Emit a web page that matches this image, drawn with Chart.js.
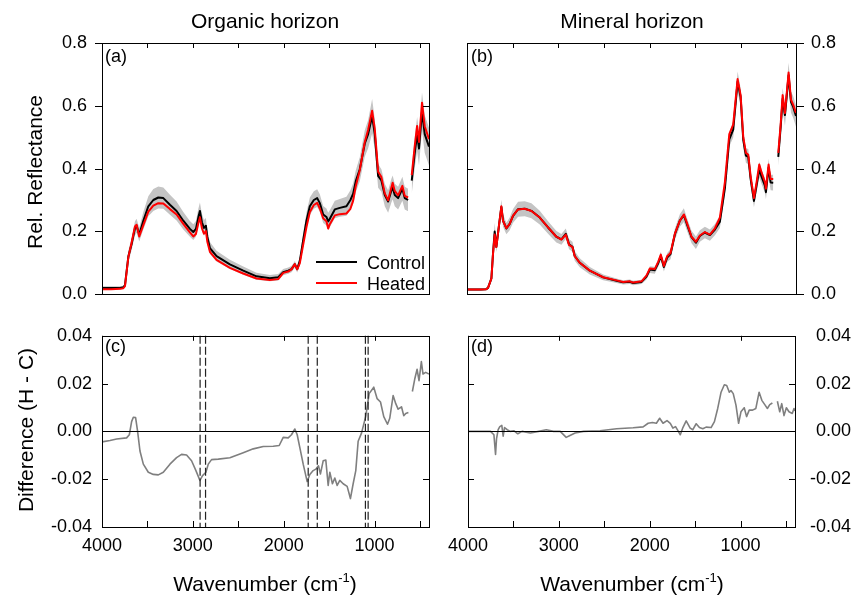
<!DOCTYPE html>
<html><head><meta charset="utf-8">
<script src="https://cdn.jsdelivr.net/npm/chart.js@4.4.0/dist/chart.umd.min.js"></script>
<style>
html,body{margin:0;padding:0;background:#fff;}
body{width:851px;height:602px;position:relative;overflow:hidden;font-family:"Liberation Sans",Arial,sans-serif;color:#000;}
canvas{position:absolute;}
.t{position:absolute;white-space:nowrap;line-height:1;transform:translate(-50%,-50%);}
.r{transform:translate(-50%,-50%) rotate(-90deg);}
.l{position:absolute;white-space:nowrap;line-height:1;transform:translateY(-50%);}
.sw{position:absolute;height:2px;width:41px;}
</style></head><body>
<canvas id="ca" width="440" height="320" style="left:0;top:0;width:440px;height:320px"></canvas>
<canvas id="cb" width="411" height="320" style="left:440px;top:0;width:411px;height:320px"></canvas>
<canvas id="cc" width="440" height="287" style="left:0;top:315px;width:440px;height:287px"></canvas>
<canvas id="cd" width="411" height="287" style="left:440px;top:315px;width:411px;height:287px"></canvas>

<div class="t" style="left:265px;top:20px;font-size:21px">Organic horizon</div>
<div class="t" style="left:632px;top:20px;font-size:21px">Mineral horizon</div>
<div class="t r" style="left:34px;top:172px;font-size:21px">Rel. Reflectance</div>
<div class="t r" style="left:25px;top:430px;font-size:21px">Difference (H - C)</div>
<div class="t" style="left:265px;top:582px;font-size:21px">Wavenumber (cm<span style="font-size:13px;vertical-align:9px">-1</span>)</div>
<div class="t" style="left:632px;top:582px;font-size:21px">Wavenumber (cm<span style="font-size:13px;vertical-align:9px">-1</span>)</div>
<div class="l" style="left:105px;top:56px;font-size:18px">(a)</div>
<div class="l" style="left:471px;top:56px;font-size:18px">(b)</div>
<div class="l" style="left:105px;top:346px;font-size:18px">(c)</div>
<div class="l" style="left:471px;top:346px;font-size:18px">(d)</div>
<div class="sw" style="left:316px;top:261px;background:#000"></div>
<div class="sw" style="left:316px;top:282px;background:#ff0000"></div>
<div class="l" style="left:367px;top:263px;font-size:18px">Control</div>
<div class="l" style="left:367px;top:284px;font-size:18px">Heated</div>

<script>
// ---------------- data ----------------
const wnA = [
 4000,3900,3800,3765,3747,3710,3674,3637,3619,3590,
 3545,3490,3435,3380,3325,3252,3179,3105,3032,2995,
 2966,2940,2922,2900,2878,2856,2841,2812,2739,2592,
 2445,2299,2152,2060,2005,1950,1914,1877,1851,1822,
 1785,1749,1712,1668,1631,1602,1565,1529,1510,1492,
 1437,1382,1309,1265,1235,1206,1162,1107,1070,1026,
 997,960,924,887,850,814,800,777,740,693,
 667,630,610,590,557,531,510,477,447,400];
const controlA = [
 0.020,0.020,0.020,0.022,0.029,0.120,0.160,0.210,0.218,0.190,
 0.234,0.280,0.300,0.308,0.306,0.285,0.265,0.234,0.208,0.198,
 0.208,0.244,0.265,0.229,0.211,0.218,0.183,0.147,0.121,0.095,
 0.075,0.057,0.051,0.054,0.070,0.075,0.080,0.095,0.080,0.106,
 0.172,0.234,0.280,0.300,0.306,0.290,0.254,0.246,0.232,0.240,
 0.270,0.275,0.280,0.300,0.320,0.360,0.398,0.480,0.510,0.567,
 0.510,0.377,0.362,0.316,0.295,0.330,0.340,0.316,0.306,0.336,
 0.306,0.300,null,0.362,0.450,0.510,0.464,0.582,0.510,0.470];
const heatedA = [
 0.016,0.016,0.017,0.019,0.026,0.118,0.164,0.216,0.221,0.184,
 0.220,0.263,0.282,0.290,0.289,0.271,0.254,0.224,0.197,0.184,
 0.192,0.225,0.245,0.210,0.193,0.201,0.168,0.135,0.109,0.084,
 0.066,0.050,0.045,0.048,0.068,0.072,0.079,0.096,0.079,0.099,
 0.158,0.214,0.262,0.284,0.291,0.273,0.242,0.232,0.209,0.223,
 0.251,0.255,0.257,0.272,0.298,0.344,0.395,0.485,0.524,0.584,
 0.527,0.390,0.373,0.321,0.299,0.340,0.355,0.329,0.315,0.345,
 0.313,0.308,null,0.379,0.472,0.536,0.485,0.610,0.535,0.494];
const sdA = [
 .005,.005,.005,.005,.008,.018,.020,.022,.022,.022,
 .028,.032,.035,.035,.034,.032,.030,.028,.025,.025,
 .025,.027,.027,.027,.025,.025,.022,.019,.017,.015,
 .013,.011,.010,.010,.010,.010,.010,.011,.011,.014,
 .022,.026,.028,.028,.028,.028,.027,.027,.027,.027,
 .028,.028,.030,.031,.033,.035,.038,.042,.045,.055,
 .048,.038,.036,.036,.036,.038,.038,.036,.036,.038,
 .036,.036,null,.042,.048,.054,.054,.060,.060,.060];

const wnB = [
 4000,3850,3790,3770,3733,3715,3697,3679,3650,3624,
 3606,3569,3533,3496,3441,3368,3295,3204,3113,3022,
 2967,2919,2883,2846,2821,2766,2656,2510,2364,2291,
 2218,2182,2090,2036,1999,1945,1908,1879,1846,1810,
 1773,1725,1671,1627,1590,1543,1495,1452,1397,1342,
 1287,1233,1178,1130,1087,1039,1006,977,948,922,
 897,860,831,802,776,740,729,700,678,649,
 620,594,568,546,521,481,455,430,400];
const controlB = [
 .015,.015,.016,.020,.0505,.1314,.1996,.151,.218,.278,
 .2345,.2093,.224,.2497,.2708,.2722,.2655,.244,.2125,.183,
 .1748,.1925,.1588,.151,.1217,.1002,.0749,.0535,.0429,.0377,
 .0396,.0355,.0392,.056,.0784,.0765,.0985,.121,.0865,.1165,
 .1276,.1912,.2345,.252,.220,.182,.164,.1854,.1965,.1883,
 .2059,.231,.3375,.493,.524,.677,.628,.491,.4415,.4375,
 .3681,.297,.3474,.397,.3735,.346,.325,.4034,.3558,.3551,
 null,.4374,.5318,.6224,.5704,.697,.6122,.5955,.5674];
const heatedB = [
 .015,.015,.016,.020,.050,.130,.190,.150,.220,.280,
 .234,.210,.224,.250,.270,.272,.265,.244,.213,.183,
 .174,.190,.157,.150,.121,.100,.075,.054,.044,.039,
 .041,.037,.041,.059,.082,.080,.103,.126,.090,.121,
 .131,.193,.234,.254,.224,.183,.167,.187,.198,.190,
 .210,.244,.357,.510,.540,.685,.634,.500,.450,.444,
 .377,.306,.357,.413,.387,.357,.336,.413,.367,.367,
 null,.450,.540,.634,.577,.706,.620,.603,.577];
const sdB = [
 .003,.003,.003,.004,.009,.017,.028,.017,.020,.023,
 .020,.018,.020,.022,.024,.024,.024,.022,.020,.018,
 .017,.017,.016,.016,.015,.014,.012,.009,.007,.007,
 .007,.007,.007,.009,.011,.011,.011,.014,.014,.014,
 .016,.018,.020,.022,.020,.020,.020,.018,.018,.018,
 .018,.020,.022,.023,.025,.032,.028,.025,.023,.025,
 .023,.020,.023,.025,.023,.023,.023,.028,.025,.025,
 null,.028,.032,.034,.034,.040,.034,.034,.034];

const wnC = [
 4000,3912,3839,3729,3699,3674,3655,3630,3608,3582,
 3545,3490,3435,3380,3325,3252,3179,3124,3069,3014,
 2966,2922,2893,2856,2830,2794,2720,2592,2445,2335,
 2225,2115,2049,2005,1950,1914,1877,1851,1822,1785,
 1741,1712,1675,1646,1617,1595,1565,1536,1510,1492,
 1463,1437,1411,1382,1345,1301,1265,1235,1206,1180,
 1143,1096,1059,1008,971,934,898,857,832,795,
 766,740,703,678,656,627,605,583,557,531,
 510,484,466,436,400];
const diffC = [
 -0.0044,-0.0038,-0.0032,-0.0027,-0.0014,0.0041,0.0059,0.0058,0.0000,-0.0082,
 -0.0137,-0.0171,-0.0180,-0.0182,-0.0171,-0.0137,-0.0110,-0.0096,-0.0099,-0.0123,
 -0.0164,-0.0205,-0.0185,-0.0171,-0.0137,-0.0118,-0.0116,-0.0110,-0.0089,-0.0073,
 -0.0063,-0.0062,-0.0059,-0.0025,-0.0027,-0.0014,0.0010,-0.0014,-0.0068,-0.0137,
 -0.0210,-0.0180,-0.0164,-0.0158,-0.0144,-0.0178,-0.0123,-0.0120,-0.0226,-0.0171,
 -0.0219,-0.0195,-0.0226,-0.0205,-0.0219,-0.0230,-0.0281,-0.0219,-0.0164,-0.0041,
 -0.0007,0.0064,0.0158,0.0185,0.0137,0.0123,0.0062,0.0030,0.0055,0.0150,
 0.0116,0.0093,0.0103,0.0066,0.0075,0.0079,null,0.0167,0.0219,0.0260,
 0.0212,0.0292,0.0240,0.0247,0.0240];

const wnD = [
 4000,3760,3752,3715,3697,3686,3668,3650,3628,3613,
 3598,3569,3533,3496,3452,3405,3314,3222,3138,3058,
 2985,2919,2883,2821,2729,2547,2364,2182,2072,2017,
 1970,1926,1890,1853,1809,1773,1744,1715,1689,1663,
 1634,1598,1554,1525,1488,1452,1415,1379,1324,1287,
 1251,1214,1178,1152,1123,1105,1080,1050,1021,995,
 959,933,904,867,831,795,765,729,704,678,
 649,620,594,568,546,521,495,466,430,411,
 400];
const diffD = [
 0,0,0,-0.0014,-0.0096,-0.0030,0.0007,0.0020,0.0025,-0.0020,
 0.0016,0.0007,0,0.0003,-0.0010,0,-0.0007,0,0.0007,0,
 0,-0.0025,-0.0018,-0.0007,0,0.0003,0.0011,0.0015,0.0019,0.0034,
 0.0037,0.0034,0.0055,0.0034,0.0045,0.0034,0.0014,0.0020,0.0003,-0.0014,
 0.0016,0.0044,0.0014,0.0007,0.0032,0.0016,0.0011,0.0018,0.0016,0.0041,
 0.0096,0.0164,0.0195,0.0192,0.0164,0.0171,0.0158,0.0110,0.0034,0.0082,
 0.0099,0.0062,0.0089,0.0089,0.0096,0.0164,0.0130,0.0110,0.0096,0.0112,
 0.0119,null,0.0126,0.0082,0.0116,0.0066,0.0099,0.0082,0.0075,0.0096,
 0.0085];

const markerLinesC = [2920, 2860, 1730, 1630, 1100, 1070];
const xTicks = [4000, 3000, 2000, 1000];
const xTickLabels = ['4000', '3000', '2000', '1000'];
const xMinorTicks = [3500, 3000, 2500, 2000, 1500, 1000, 500];
const reflTicks = [0, 0.2, 0.4, 0.6, 0.8];
const reflTickLabels = ['0.0', '0.2', '0.4', '0.6', '0.8'];
const diffTicks = [-0.04, -0.02, 0, 0.02, 0.04];
const diffTickLabels = ['-0.04', '-0.02', '0.00', '0.02', '0.04'];

// ---------------- helpers ----------------
const FONT = '"Liberation Sans", Arial, sans-serif';
Chart.defaults.font.family = FONT;
Chart.defaults.font.size = 18;
Chart.defaults.color = '#000';

const pts = (xs, ys) => xs.map((x, i) => ({x: x, y: ys[i]}));
const band = (xs, ys, sd, sign) => xs.map((x, i) => ({x: x, y: ys[i] == null ? null : ys[i] + sign * sd[i]}));

const framePlugin = {
  id: 'frame',
  afterDatasetsDraw(chart, args, opts) {
    const {ctx, chartArea: a, scales} = chart;
    ctx.save();
    ctx.strokeStyle = '#000';
    ctx.lineWidth = 1;
    (opts.hlines || []).forEach(v => {
      const p = Math.round(scales.y.getPixelForValue(v)) + 0.5;
      ctx.beginPath(); ctx.moveTo(a.left, p); ctx.lineTo(a.right, p); ctx.stroke();
    });
    if (opts.vlines) {
      ctx.save();
      ctx.setLineDash([8, 3]);
      ctx.strokeStyle = '#222';
      ctx.lineWidth = 1.2;
      opts.vlines.forEach(v => {
        const p = scales.x.getPixelForValue(v);
        ctx.beginPath(); ctx.moveTo(p, a.top); ctx.lineTo(p, a.bottom); ctx.stroke();
      });
      ctx.restore();
    }
    ctx.strokeRect(Math.round(a.left) + 0.5, Math.round(a.top) + 0.5,
                   Math.round(a.right - a.left), Math.round(a.bottom - a.top));
    (opts.marks || []).forEach(m => {
      const sc = scales[m.scale];
      m.values.forEach(v => {
        const p = Math.round(sc.getPixelForValue(v)) + 0.5;
        const d = m.out ? -m.len : m.len;
        ctx.beginPath();
        if (m.side === 'left') { ctx.moveTo(a.left, p); ctx.lineTo(a.left + d, p); }
        else if (m.side === 'right') { ctx.moveTo(a.right, p); ctx.lineTo(a.right - d, p); }
        else if (m.side === 'top') { ctx.moveTo(p, a.top); ctx.lineTo(p, a.top + d); }
        else { ctx.moveTo(p, a.bottom); ctx.lineTo(p, a.bottom - d); }
        ctx.stroke();
      });
    });
    ctx.restore();
  }
};

function xScale(showLabels, height) {
  return {
    type: 'linear', position: 'bottom', min: 400, max: 4000, reverse: true,
    afterBuildTicks: s => { s.ticks = xTicks.map(v => ({value: v})); },
    ticks: {display: showLabels, padding: 8, autoSkip: false, maxRotation: 0,
            callback: v => xTickLabels[xTicks.indexOf(v)]},
    grid: {display: false, drawTicks: false}, border: {display: false},
    afterFit: s => { s.height = height; }
  };
}
function yScale(kind, position, width, padding, crossAlign) {
  const vals = kind === 'refl' ? reflTicks : diffTicks;
  const labs = kind === 'refl' ? reflTickLabels : diffTickLabels;
  return {
    type: 'linear', position: position,
    min: vals[0], max: vals[vals.length - 1],
    afterBuildTicks: s => { s.ticks = vals.map(v => ({value: v})); },
    ticks: {padding: padding, crossAlign: crossAlign || 'near',
            callback: v => labs[vals.indexOf(v)]},
    grid: {display: false, drawTicks: false}, border: {display: false},
    afterFit: s => { s.width = width; }
  };
}
function spectraDatasets(xs, ctrl, heat, sd) {
  return [
    {label: 'Heated', data: pts(xs, heat), borderColor: '#ff0000', borderWidth: 2, order: 0},
    {label: 'Control', data: pts(xs, ctrl), borderColor: '#000000', borderWidth: 2, order: 1},
    {label: 'upper', data: band(xs, ctrl, sd, 1), borderWidth: 0, borderColor: 'rgba(0,0,0,0)',
     backgroundColor: '#c4c4c4', fill: '+1', order: 2},
    {label: 'lower', data: band(xs, ctrl, sd, -1), borderWidth: 0, borderColor: 'rgba(0,0,0,0)',
     backgroundColor: '#c4c4c4', fill: false, order: 3}
  ];
}
const baseOpts = {
  responsive: false, animation: false, events: [],
  elements: {point: {radius: 0}, line: {tension: 0, borderJoinStyle: 'round'}},
  plugins: {legend: {display: false}, tooltip: {enabled: false}}
};
function makeChart(id, datasets, scales, padding, frame) {
  return new Chart(document.getElementById(id), {
    type: 'line',
    data: {datasets: datasets},
    options: Object.assign({}, baseOpts, {
      layout: {padding: padding},
      scales: scales,
      plugins: Object.assign({}, baseOpts.plugins, {frame: frame})
    }),
    plugins: [framePlugin]
  });
}

// (a) Organic horizon, reflectance
makeChart('ca', spectraDatasets(wnA, controlA, heatedA, sdA),
  {x: xScale(false, 0), y: yScale('refl', 'left', 102, 15)},
  {left: 0, top: 43, right: 11, bottom: 17},
  {marks: [
    {scale: 'y', side: 'left', values: reflTicks, len: 7, out: true},
    {scale: 'y', side: 'right', values: reflTicks, len: 6, out: false},
    {scale: 'x', side: 'top', values: xMinorTicks, len: 5, out: false}
  ]});

// (b) Mineral horizon, reflectance
makeChart('cb', spectraDatasets(wnB, controlB, heatedB, sdB),
  {x: xScale(false, 0), y: yScale('refl', 'right', 55, 15)},
  {left: 27, top: 43, right: 0, bottom: 17},
  {marks: [
    {scale: 'y', side: 'left', values: reflTicks, len: 6, out: false},
    {scale: 'y', side: 'right', values: reflTicks, len: 8, out: true},
    {scale: 'x', side: 'top', values: xMinorTicks, len: 5, out: false}
  ]});

// (c) Organic horizon, difference
makeChart('cc', [{label: 'H - C', data: pts(wnC, diffC), borderColor: '#7f7f7f', borderWidth: 1.6}],
  {x: xScale(true, 75), y: yScale('diff', 'left', 102, 10)},
  {left: 0, top: 18, right: 11, bottom: 0},
  {hlines: [0], vlines: markerLinesC, marks: [
    {scale: 'y', side: 'left', values: diffTicks, len: 6, out: false},
    {scale: 'y', side: 'right', values: diffTicks, len: 6, out: false},
    {scale: 'x', side: 'top', values: xTicks, len: 5, out: false},
    {scale: 'x', side: 'bottom', values: xMinorTicks, len: 6, out: false}
  ]});

// (d) Mineral horizon, difference
makeChart('cd', [{label: 'H - C', data: pts(wnD, diffD), borderColor: '#7f7f7f', borderWidth: 1.6}],
  {x: xScale(true, 75), y: yScale('diff', 'right', 56, 10, 'far')},
  {left: 28, top: 18, right: 0, bottom: 0},
  {hlines: [0], marks: [
    {scale: 'y', side: 'left', values: diffTicks, len: 6, out: false},
    {scale: 'y', side: 'right', values: diffTicks, len: 6, out: false},
    {scale: 'x', side: 'top', values: xTicks, len: 5, out: false},
    {scale: 'x', side: 'bottom', values: xMinorTicks, len: 6, out: false}
  ]});
</script>
</body></html>
